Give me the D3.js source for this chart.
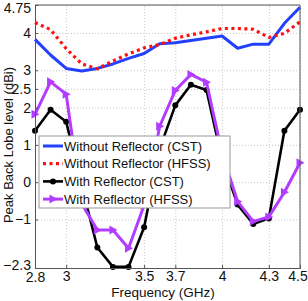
<!DOCTYPE html>
<html>
<head>
<meta charset="utf-8">
<script src="https://cdn.jsdelivr.net/npm/d3@7"></script>
<style>
  body { margin: 0; background: #fff; }
  svg text { font-family: "Liberation Sans", Arial, sans-serif; fill: #111; }
</style>
</head>
<body>
<script>
// frequency samples (GHz)
var freq = [2.8, 2.9, 3.0, 3.1, 3.2, 3.3, 3.4, 3.5, 3.6, 3.7, 3.8, 3.9, 4.0, 4.1, 4.2, 4.3, 4.4, 4.5];

// peak back lobe level (dBi)
var noRefCST  = [3.83, 3.41, 3.05, 2.98, 3.05, 3.17, 3.32, 3.45, 3.71, 3.74, 3.80, 3.86, 3.92, 3.59, 3.70, 3.70, 4.26, 4.69];
var noRefHFSS = [4.28, 4.09, 3.58, 3.17, 3.04, 3.25, 3.44, 3.60, 3.69, 3.86, 3.95, 4.03, 4.12, 4.12, 4.10, 3.88, 3.99, 4.30];
var refCST    = [1.38, 1.94, 1.62, -0.10, -1.75, -2.27, -2.27, -1.21, 0.90, 2.06, 2.61, 2.47, 0.60, -0.60, -1.12, -0.97, 1.38, 1.94];
var refHFSS   = [1.82, 2.69, 2.36, -0.58, -1.28, -1.28, -1.77, -0.62, 1.50, 2.46, 2.89, 2.68, 0.78, -0.52, -1.05, -0.93, -0.27, 0.52];

var xTicks = [2.8, 3, 3.5, 3.7, 4, 4.3, 4.5];
var yTicks = [-2.3, -1, 0, 1, 2, 2.5, 3, 4, 4.75];

var legendNames = ["Without Reflector (CST)", "Without Reflector (HFSS)", "With Reflector (CST)", "With Reflector (HFSS)"];

var W = 308, H = 301;
var margin = {top: 5, right: 8, bottom: 33, left: 35};
var w = W - margin.left - margin.right,
    h = H - margin.top - margin.bottom;

var svg = d3.select("body").append("svg")
    .attr("width", W)
    .attr("height", H);

var g = svg.append("g")
    .attr("transform", "translate(" + margin.left + "," + margin.top + ")");

var x = d3.scaleLinear().domain([2.8, 4.5]).range([0, w]);
var y = d3.scaleLinear().domain([-2.3, 4.75]).range([h, 0]);

var fmt = function(d) { return String(d).replace("-", "\u2212"); };

// dotted grid
g.append("g")
    .attr("class", "grid")
    .attr("transform", "translate(0," + h + ")")
    .call(d3.axisBottom(x).tickValues(xTicks).tickSize(-h).tickFormat(""));
g.append("g")
    .attr("class", "grid")
    .call(d3.axisLeft(y).tickValues(yTicks).tickSize(-w).tickFormat(""));
g.selectAll(".grid .domain").remove();
g.selectAll(".grid line")
    .attr("stroke", "#c8c8c8")
    .attr("stroke-width", 1)
    .attr("stroke-dasharray", "1,2");

// clip for the data lines
g.append("clipPath").attr("id", "clip")
  .append("rect").attr("x", -4).attr("y", -4).attr("width", w + 8).attr("height", h + 8);

var series = [
  {vals: noRefCST,  color: "#2340ff", dash: null,  width: 3,   marker: null},
  {vals: noRefHFSS, color: "#ff1010", dash: "3,3.5", width: 3.2, marker: null},
  {vals: refCST,    color: "#000000", dash: null,  width: 2.6, marker: "circle"},
  {vals: refHFSS,   color: "#b23cff", dash: null,  width: 3,   marker: "tri"}
];

var line = d3.line()
    .x(function(d, i) { return x(freq[i]); })
    .y(function(d) { return y(d); });

var tri = "M-3.5,-4.5L4.5,0L-3.5,4.5Z";

var plot = g.append("g").attr("clip-path", "url(#clip)");

series.forEach(function(s) {
  plot.append("path")
      .datum(s.vals)
      .attr("fill", "none")
      .attr("stroke", s.color)
      .attr("stroke-width", s.width)
      .attr("stroke-linejoin", "round")
      .attr("stroke-dasharray", s.dash)
      .attr("d", line);

  if (s.marker == "circle") {
    plot.selectAll(null)
        .data(s.vals)
      .enter().append("circle")
        .attr("cx", function(d, i) { return x(freq[i]); })
        .attr("cy", function(d) { return y(d); })
        .attr("r", 3)
        .attr("fill", s.color);
  } else if (s.marker == "tri") {
    plot.selectAll(null)
        .data(s.vals)
      .enter().append("path")
        .attr("d", tri)
        .attr("transform", function(d, i) { return "translate(" + x(freq[i]) + "," + y(d) + ")"; })
        .attr("fill", s.color);
  }
});

// axes with inward ticks
var xAxis = g.append("g")
    .attr("transform", "translate(0," + h + ")")
    .call(d3.axisBottom(x).tickValues(xTicks).tickSize(-3).tickPadding(3).tickFormat(fmt));
var yAxis = g.append("g")
    .call(d3.axisLeft(y).tickValues(yTicks).tickSize(-3).tickPadding(4).tickFormat(fmt));

[xAxis, yAxis].forEach(function(a) {
  a.select(".domain").attr("stroke", "#555");
  a.selectAll(".tick line").attr("stroke", "#555");
  a.selectAll("text").attr("font-size", 14).attr("fill", "#111")
      .style("font-family", '"Liberation Sans", Arial, sans-serif');
});
// keep the end labels inside the picture and apart
xAxis.selectAll(".tick text").filter(function(d) { return d == 4.5; }).attr("dx", -2.5);
xAxis.selectAll(".tick text").filter(function(d) { return d == 2.8; }).attr("dy", "0.78em");
yAxis.selectAll(".tick text").filter(function(d) { return d == 4.75; }).attr("dy", "0.5em");
yAxis.selectAll(".tick text").filter(function(d) { return d == -2.3; }).attr("dy", "0.12em");

// top and right box edges
g.append("path")
    .attr("d", "M0,0H" + w + "V" + h)
    .attr("fill", "none")
    .attr("stroke", "#555");

// axis titles
svg.append("text")
    .attr("x", 163)
    .attr("y", 297)
    .attr("text-anchor", "middle")
    .attr("font-size", 13.5)
    .text("Frequency (GHz)");

svg.append("text")
    .attr("transform", "translate(13,145) rotate(-90)")
    .attr("text-anchor", "middle")
    .attr("font-size", 13)
    .text("Peak Back Lobe level (dBi)");

// legend
var lg = svg.append("g").attr("transform", "translate(39,136)");
lg.append("rect")
    .attr("width", 191)
    .attr("height", 72)
    .attr("fill", "#fff")
    .attr("stroke", "#999");

series.forEach(function(s, i) {
  var ly = 10 + i * 17.7;
  lg.append("line")
      .attr("x1", 4).attr("x2", 24)
      .attr("y1", ly).attr("y2", ly)
      .attr("stroke", s.color)
      .attr("stroke-width", s.width)
      .attr("stroke-dasharray", s.dash);
  if (s.marker == "circle") {
    lg.append("circle").attr("cx", 14).attr("cy", ly).attr("r", 3).attr("fill", s.color);
  } else if (s.marker == "tri") {
    lg.append("path").attr("d", tri).attr("transform", "translate(14," + ly + ")").attr("fill", s.color);
  }
  lg.append("text")
      .attr("x", 25)
      .attr("y", ly + 4.5)
      .attr("font-size", 13)
      .text(legendNames[i]);
});
</script>
</body>
</html>
